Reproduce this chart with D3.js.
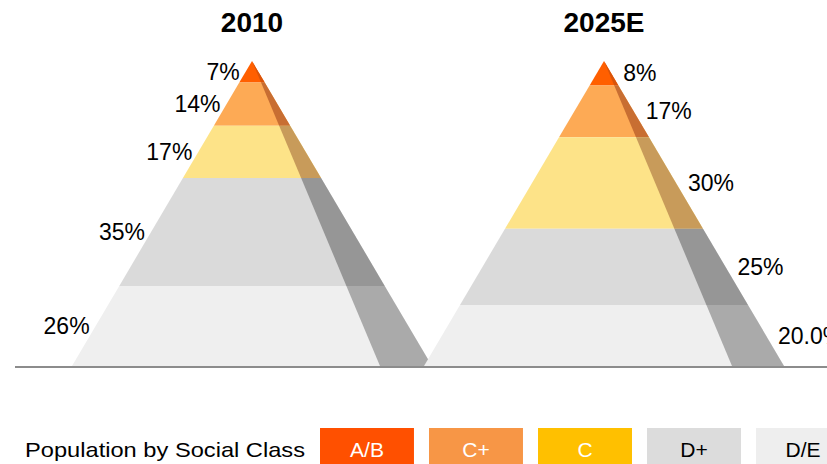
<!DOCTYPE html>
<html>
<head>
<meta charset="utf-8">
<script src="https://cdn.jsdelivr.net/npm/d3@7"></script>
<style>
  body { margin: 0; background: #fff; }
  text { font-family: "Liberation Sans", Arial, sans-serif; }
</style>
</head>
<body>
<div id="chart"></div>
<script>
const width = 827;
const height = 464;

// data
const classes = ["A/B", "C+", "C", "D+", "D/E"];
const years = ["2010", "2025E"];
const share2010 = [7, 14, 17, 35, 26];
const share2025 = [8, 17, 30, 25, 20];
const labels2010 = ["7%", "14%", "17%", "35%", "26%"];
const labels2025 = ["8%", "17%", "30%", "25%", "20.0%"];
const legendTitle = "Population by Social Class";

// styles
const frontColors = ["#ff5f00", "#fdaa55", "#fde388", "#dadada", "#efefef"];
const sideColors = ["#d9540a", "#c86e32", "#c89b5a", "#969696", "#aaaaaa"];
const legendColors = ["#ff5000", "#f79646", "#ffc000", "#dcdcdc", "#eeeeee"];
const legendText = ["#fff", "#fff", "#fff", "#000", "#000"];

const pyramids = [
  { year: years[0], values: share2010, labels: labels2010, side: "left" },
  { year: years[1], values: share2025, labels: labels2025, side: "right" }
];

const svg = d3.select("#chart")
  .append("svg")
  .attr("width", width)
  .attr("height", height);

const apexY = 61, baseY = 366;
const halfW = 180, innerW = 128;

const x = d3.scalePoint().domain(years).range([252, 604]);

pyramids.forEach(p => {
  const cx = x(p.year);
  const total = d3.sum(p.values);
  const y = d3.scaleLinear().domain([0, total]).range([apexY, baseY]);
  const t = yy => (yy - apexY) / (baseY - apexY);
  const cum = d3.cumsum(p.values);
  const bands = p.values.map((v, i) => ({
    i, y0: y(i ? cum[i - 1] : 0), y1: y(cum[i]), label: p.labels[i]
  }));

  const g = svg.append("g");

  // front face bands (full width)
  g.selectAll("path.front")
    .data(bands)
    .join("path")
    .attr("class", "front")
    .attr("fill", d => frontColors[d.i])
    .attr("d", d => d3.line()([
      [cx - halfW * t(d.y0), d.y0],
      [cx + halfW * t(d.y0), d.y0],
      [cx + halfW * t(d.y1), d.y1],
      [cx - halfW * t(d.y1), d.y1]
    ]) + "Z");

  // side face
  g.selectAll("path.side")
    .data(bands)
    .join("path")
    .attr("class", "side")
    .attr("fill", d => sideColors[d.i])
    .attr("d", d => d3.line()([
      [cx + innerW * t(d.y0), d.y0],
      [cx + halfW * t(d.y0), d.y0],
      [cx + halfW * t(d.y1), d.y1],
      [cx + innerW * t(d.y1), d.y1]
    ]) + "Z");

  // labels
  g.selectAll("text.lbl")
    .data(bands)
    .join("text")
    .attr("class", "lbl")
    .attr("x", d => {
      const m = (d.y0 + d.y1) / 2;
      return p.side === "left" ? cx - halfW * t(m) - 6 : cx + halfW * t(m) + 12;
    })
    .attr("y", d => (d.y0 + d.y1) / 2)
    .attr("dy", "0.35em")
    .attr("text-anchor", p.side === "left" ? "end" : "start")
    .attr("font-size", 23)
    .attr("fill", "#000")
    .text(d => d.label);

  // title
  svg.append("text")
    .attr("x", cx)
    .attr("y", 32)
    .attr("text-anchor", "middle")
    .attr("font-size", 28)
    .attr("font-weight", "bold")
    .text(p.year);
});

// baseline
svg.append("line")
  .attr("x1", 15).attr("x2", width)
  .attr("y1", 367).attr("y2", 367)
  .attr("stroke", "#8c8c8c")
  .attr("stroke-width", 2);

// legend
const legend = svg.append("g");
legend.append("text")
  .attr("x", 25)
  .attr("y", 457)
  .attr("font-size", 21)
  .attr("textLength", 280)
  .attr("lengthAdjust", "spacingAndGlyphs")
  .text(legendTitle);

const lx = d3.scaleBand().domain(classes).range([320, 850]).paddingInner(0.138);

const items = legend.selectAll("g.item")
  .data(classes)
  .join("g")
  .attr("class", "item")
  .attr("transform", d => `translate(${lx(d)},428)`);

items.append("rect")
  .attr("width", lx.bandwidth())
  .attr("height", 40)
  .attr("fill", (d, i) => legendColors[i]);

items.append("text")
  .attr("x", lx.bandwidth() / 2)
  .attr("y", 29)
  .attr("text-anchor", "middle")
  .attr("font-size", 21)
  .attr("fill", (d, i) => legendText[i])
  .text(d => d);
</script>
</body>
</html>
